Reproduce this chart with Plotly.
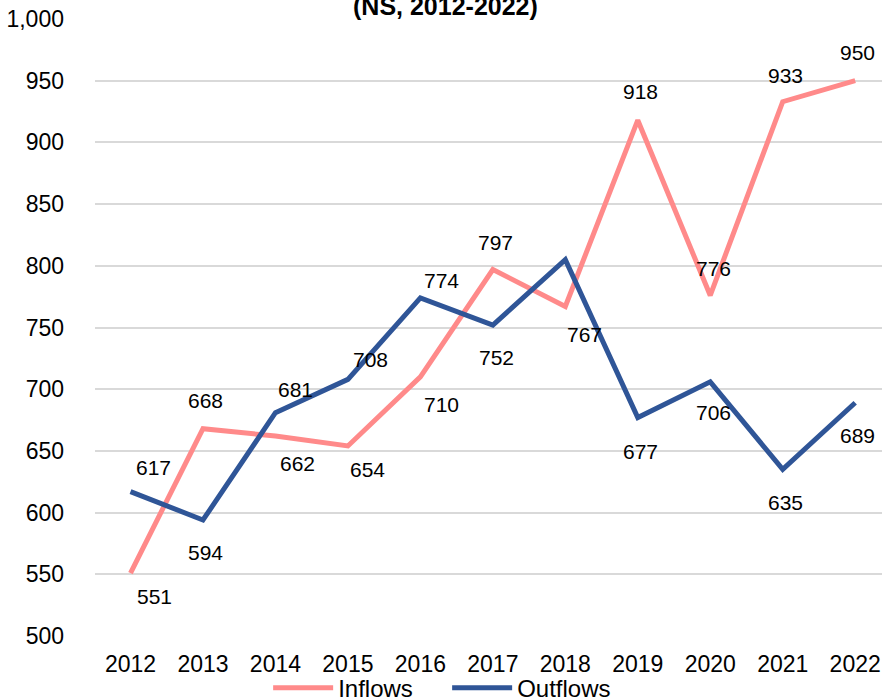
import plotly.graph_objects as go

years = ["2012", "2013", "2014", "2015", "2016", "2017", "2018", "2019", "2020", "2021", "2022"]
inflows = [551, 668, 662, 654, 710, 797, 767, 918, 776, 933, 950]
outflows = [617, 594, 681, 708, 774, 752, 805, 677, 706, 635, 689]
y_ticks = [500, 550, 600, 650, 700, 750, 800, 850, 900, 950, 1000]
title_text = "(NS, 2012-2022)"

# label placement offsets in pixels (dx right, dy up); None = label hidden
in_dx = [24, 3, 22, 20, 21, 3, 19, 3, 3, 3, 2]
in_dy = [-22, 29, -26, -23, -27, 28, -27, 30, 28, 27, 29]
out_dx = [23, 3, 20, 23, 21, 4, 0, 3, 3, 3, 2]
out_dy = [25, -31, 24, 21, 18, -31, None, -33, -30, -32, -32]

PINK = "#FF8A8A"
BLUE = "#2F5597"
FONT = "Liberation Sans, Arial, sans-serif"

fig = go.Figure()
fig.add_trace(go.Scatter(x=years, y=inflows, mode="lines", name="Inflows",
                         line=dict(color=PINK, width=5)))
fig.add_trace(go.Scatter(x=years, y=outflows, mode="lines", name="Outflows",
                         line=dict(color=BLUE, width=5)))

annotations = []
for vals, dxs, dys in ((inflows, in_dx, in_dy), (outflows, out_dx, out_dy)):
    for i, (v, dx, dy) in enumerate(zip(vals, dxs, dys)):
        if dy is None:
            continue
        annotations.append(dict(
            x=i, y=v, xref="x", yref="y", text=f"{v:,}", showarrow=False,
            font=dict(family=FONT, size=21, color="#000000"),
            xanchor="center", yanchor="middle",
            xshift=dx, yshift=dy - 1))

annotations.append(dict(
    x=0.445, y=1, xref="paper", yref="paper", text=f"<b>{title_text}</b>",
    showarrow=False, xanchor="center", yanchor="bottom", yshift=-3,
    font=dict(family=FONT, size=25, color="#000000")))

fig.update_layout(
    width=882, height=700,
    margin=dict(l=95, r=0, t=19, b=64, autoexpand=False),
    paper_bgcolor="white", plot_bgcolor="white",
    font=dict(family=FONT, size=23, color="#000000"),
    showlegend=True,
    legend=dict(orientation="h", x=0.22, xanchor="left",
                yref="container", y=0.017, yanchor="middle",
                font=dict(size=24), tracegroupgap=0, itemwidth=60,
                entrywidth=104, entrywidthmode="pixels",
                bgcolor="rgba(0,0,0,0)"),
    annotations=annotations,
)
fig.update_xaxes(type="category", range=[-0.49, 10.37], showgrid=False,
                 showline=False, ticks="", ticklabelstandoff=12,
                 automargin=False, tickfont=dict(size=23))
fig.update_yaxes(range=[500, 1000], tickvals=y_ticks,
                 ticktext=[f"{v:,}" for v in y_ticks],
                 showgrid=True, gridcolor="#D9D9D9", gridwidth=2,
                 zeroline=False, showline=False, ticks="",
                 automargin=False,
                 ticklabelstandoff=30, tickfont=dict(size=23))

fig.write_html("out.html", config={"displayModeBar": False},
               post_script="document.body.style.margin='0';document.body.style.overflow='hidden';")
